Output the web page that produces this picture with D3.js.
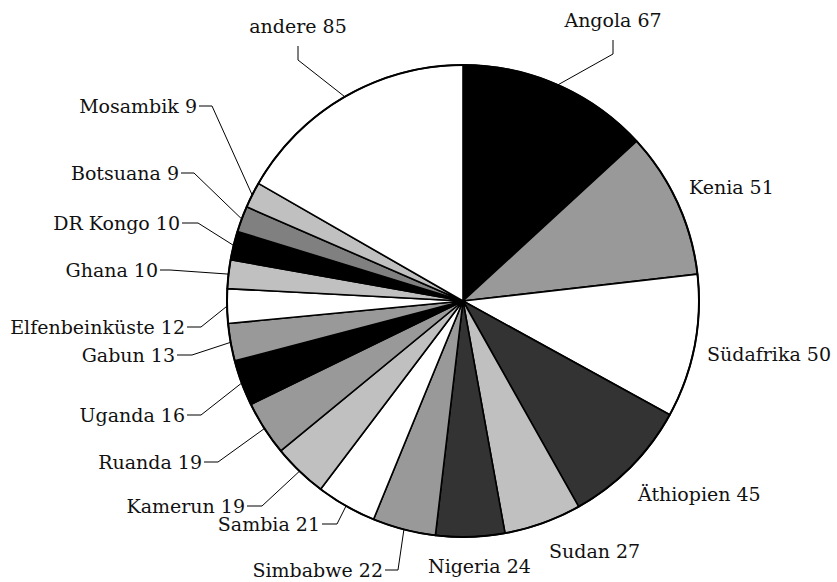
<!DOCTYPE html>
<html>
<head>
<meta charset="utf-8">
<script src="https://cdn.jsdelivr.net/npm/d3@7"></script>
<style>
  body { margin: 0; background: #fff; }
  text { font-family: "DejaVu Serif", serif; font-size: 19px; fill: #111; }
</style>
</head>
<body>
<svg id="chart" width="837" height="582"></svg>
<script>
// Werte (im Uhrzeigersinn ab 12 Uhr)
var countries = ["Angola", "Kenia", "Südafrika", "Äthiopien", "Sudan", "Nigeria", "Simbabwe", "Sambia",
                 "Kamerun", "Ruanda", "Uganda", "Gabun", "Elfenbeinküste", "Ghana", "DR Kongo",
                 "Botsuana", "Mosambik", "andere"];
var values = [67, 51, 50, 45, 27, 24, 22, 21, 19, 19, 16, 13, 12, 10, 10, 9, 9, 85];
var fills = ["#000000", "#999999", "#ffffff", "#333333", "#c0c0c0", "#333333", "#999999", "#ffffff",
             "#c0c0c0", "#999999", "#000000", "#999999", "#ffffff", "#c0c0c0", "#000000",
             "#808080", "#c0c0c0", "#ffffff"];

// Beschriftungs-Layout: [typ, x, y, knick]
//  "top": x = Textmitte, y = Grundlinie ; "left": x = Textende, y = Mitte, knick = Ende des waagrechten Strichs
//  "right": x = Textanfang, y = Grundlinie (ohne Linie)
var labelLayout = [
  ["top", 613, 27], ["right", 689, 194], ["right", 707, 361], ["right", 638, 501],
  ["right", 549, 558], ["right", 428, 573], ["left", 383, 570, 398], ["left", 320, 524, 337],
  ["left", 245, 506, 262], ["left", 202, 462, 218], ["left", 185, 415, 201], ["left", 175, 355, 192],
  ["left", 185, 327, 201], ["left", 158, 270, 170], ["left", 180, 223, 198], ["left", 179, 173, 194],
  ["left", 197, 106, 212], ["top", 298, 33]
];

var cx = 463, cy = 301, radius = 236;
var svg = d3.select("#chart");
var g = svg.append("g").attr("transform", "translate(" + cx + "," + cy + ")");

var pie = d3.pie().sort(null).value(function(d){ return d; });
var arcs = pie(values);
var arc = d3.arc().innerRadius(0).outerRadius(radius);
var edge = d3.arc().innerRadius(radius).outerRadius(radius);

g.selectAll("path.slice")
  .data(arcs)
  .enter()
  .append("path")
  .attr("class", "slice")
  .attr("d", arc)
  .attr("fill", function(d, i){ return fills[i]; })
  .attr("stroke", "#000")
  .attr("stroke-width", 1.6)
  .attr("stroke-linejoin", "round");

g.append("circle")
  .attr("r", radius)
  .attr("fill", "none")
  .attr("stroke", "#000")
  .attr("stroke-width", 2);

// Beschriftungen und Hinweislinien
var line = d3.line();
arcs.forEach(function(d, i){
  var lay = labelLayout[i];
  var p = edge.centroid(d);
  var ax = p[0] + cx, ay = p[1] + cy;
  var label = countries[i] + " " + values[i];

  if (lay[0] === "top") {
    svg.append("text")
      .attr("x", lay[1]).attr("y", lay[2])
      .attr("text-anchor", "middle")
      .text(label);
    svg.append("path")
      .attr("d", line([[lay[1], lay[2] + 13], [lay[1], lay[2] + 27], [ax, ay]]))
      .attr("fill", "none").attr("stroke", "#000").attr("stroke-width", 1);
  } else if (lay[0] === "left") {
    svg.append("text")
      .attr("x", lay[1]).attr("y", lay[2])
      .attr("dy", "0.35em")
      .attr("text-anchor", "end")
      .text(label);
    svg.append("path")
      .attr("d", line([[lay[1] + 2, lay[2]], [lay[3], lay[2]], [ax, ay]]))
      .attr("fill", "none").attr("stroke", "#000").attr("stroke-width", 1);
  } else {
    svg.append("text")
      .attr("x", lay[1]).attr("y", lay[2])
      .attr("text-anchor", "start")
      .text(label);
  }
});
</script>
</body>
</html>
